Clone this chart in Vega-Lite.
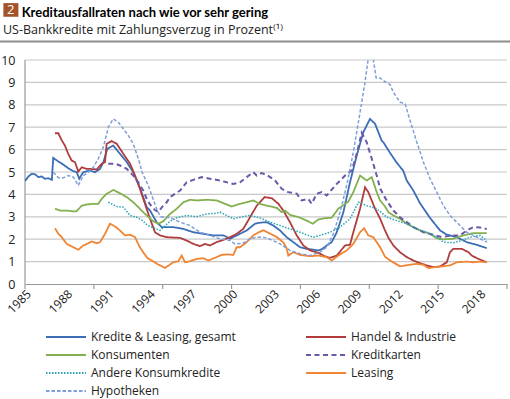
{
"$schema": "https://vega.github.io/schema/vega-lite/v6.json",
"width": 482, "height": 224,
"autosize": {"type": "none"},
"padding": {"left": 25, "top": 60, "right": 3, "bottom": 115},
"background": "white",
"config": {"font": "Open Sans", "view": {"stroke": null}},
"title": {"text": "\u200b\u2003\u2002\u2009\u200aKreditausfallraten nach wie vor sehr gering", "subtitle": "US-Bankkredite mit Zahlungsverzug in Prozent\u207d\u00b9\u207e", "anchor": "start", "frame": "group", "dx": -22, "offset": -33, "font": "Lato", "fontSize": 13, "fontWeight": "bold", "color": "#000000", "subtitleFont": "Open Sans", "subtitleFontSize": 12.5, "subtitleColor": "#222222", "subtitlePadding": 4},
"datasets": {
"A": [{"x":1985.0,"v":4.6},{"x":1985.25,"v":4.8},{"x":1985.49,"v":4.92},{"x":1985.73,"v":4.9},{"x":1985.97,"v":4.77},{"x":1986.21,"v":4.8},{"x":1986.45,"v":4.7},{"x":1986.69,"v":4.72},{"x":1986.95,"v":4.65},{"x":1987.05,"v":5.63},{"x":1987.42,"v":5.47},{"x":1987.78,"v":5.33},{"x":1988.14,"v":5.17},{"x":1988.51,"v":5.04},{"x":1988.75,"v":5.0},{"x":1988.94,"v":4.7},{"x":1989.23,"v":4.99},{"x":1989.72,"v":5.07},{"x":1990.08,"v":4.99},{"x":1990.45,"v":5.14},{"x":1990.69,"v":5.44},{"x":1990.98,"v":6.03},{"x":1991.41,"v":6.18},{"x":1991.9,"v":5.81},{"x":1992.39,"v":5.44},{"x":1992.86,"v":4.99},{"x":1993.35,"v":4.28},{"x":1993.84,"v":3.43},{"x":1994.08,"v":3.28},{"x":1994.56,"v":2.76},{"x":1994.93,"v":2.54},{"x":1995.77,"v":2.54},{"x":1996.5,"v":2.46},{"x":1997.22,"v":2.31},{"x":1997.95,"v":2.24},{"x":1998.67,"v":2.17},{"x":1999.4,"v":2.17},{"x":1999.69,"v":2.09},{"x":1999.89,"v":2.02},{"x":2000.37,"v":2.17},{"x":2001.1,"v":2.39},{"x":2001.7,"v":2.69},{"x":2002.07,"v":2.74},{"x":2002.55,"v":2.76},{"x":2003.03,"v":2.61},{"x":2003.52,"v":2.39},{"x":2004.0,"v":2.09},{"x":2004.48,"v":1.87},{"x":2004.97,"v":1.64},{"x":2005.46,"v":1.57},{"x":2006.3,"v":1.5},{"x":2006.55,"v":1.55},{"x":2006.91,"v":1.72},{"x":2007.27,"v":1.87},{"x":2007.64,"v":2.31},{"x":2008.12,"v":3.21},{"x":2008.6,"v":4.54},{"x":2009.09,"v":5.74},{"x":2009.57,"v":6.78},{"x":2010.05,"v":7.37},{"x":2010.42,"v":7.15},{"x":2010.9,"v":6.4},{"x":2011.02,"v":6.33},{"x":2011.51,"v":5.85},{"x":2011.99,"v":5.42},{"x":2012.47,"v":5.05},{"x":2012.72,"v":4.62},{"x":2013.2,"v":4.17},{"x":2013.69,"v":3.6},{"x":2014.41,"v":2.95},{"x":2015.14,"v":2.39},{"x":2015.63,"v":2.2},{"x":2016.35,"v":2.09},{"x":2017.08,"v":1.87},{"x":2017.8,"v":1.75},{"x":2018.53,"v":1.6}],
"B": [{"x":1987.18,"v":6.73},{"x":1987.42,"v":6.73},{"x":1987.67,"v":6.41},{"x":1987.9,"v":6.18},{"x":1988.14,"v":5.81},{"x":1988.39,"v":5.51},{"x":1988.63,"v":5.44},{"x":1988.87,"v":5.02},{"x":1989.12,"v":5.21},{"x":1989.48,"v":5.14},{"x":1989.84,"v":5.14},{"x":1990.21,"v":5.11},{"x":1990.57,"v":5.37},{"x":1990.81,"v":5.44},{"x":1990.93,"v":6.26},{"x":1991.3,"v":6.38},{"x":1991.66,"v":6.26},{"x":1992.14,"v":5.81},{"x":1992.63,"v":5.37},{"x":1992.99,"v":4.84},{"x":1993.35,"v":4.25},{"x":1993.71,"v":3.58},{"x":1994.0,"v":3.05},{"x":1994.44,"v":2.31},{"x":1994.8,"v":2.17},{"x":1995.29,"v":2.09},{"x":1996.26,"v":2.06},{"x":1996.74,"v":1.94},{"x":1997.22,"v":1.79},{"x":1997.71,"v":1.69},{"x":1998.07,"v":1.79},{"x":1998.43,"v":1.72},{"x":1998.92,"v":1.87},{"x":1999.4,"v":1.97},{"x":1999.89,"v":2.09},{"x":2000.37,"v":2.24},{"x":2000.85,"v":2.46},{"x":2001.34,"v":2.98},{"x":2001.83,"v":3.5},{"x":2002.4,"v":3.88},{"x":2002.92,"v":3.83},{"x":2003.4,"v":3.58},{"x":2003.76,"v":3.28},{"x":2004.24,"v":2.76},{"x":2004.73,"v":2.17},{"x":2005.21,"v":1.72},{"x":2005.7,"v":1.5},{"x":2006.3,"v":1.39},{"x":2006.79,"v":1.23},{"x":2007.15,"v":1.17},{"x":2007.64,"v":1.27},{"x":2008.24,"v":1.72},{"x":2008.6,"v":1.75},{"x":2008.84,"v":2.31},{"x":2009.33,"v":3.36},{"x":2009.69,"v":4.32},{"x":2009.93,"v":4.1},{"x":2010.42,"v":3.36},{"x":2010.8,"v":2.9},{"x":2011.1,"v":2.45},{"x":2011.4,"v":2.05},{"x":2011.75,"v":1.72},{"x":2012.23,"v":1.42},{"x":2012.72,"v":1.2},{"x":2013.2,"v":1.05},{"x":2013.69,"v":0.93},{"x":2014.17,"v":0.83},{"x":2014.65,"v":0.75},{"x":2015.14,"v":0.79},{"x":2015.63,"v":0.97},{"x":2015.86,"v":1.42},{"x":2016.1,"v":1.57},{"x":2016.72,"v":1.57},{"x":2017.2,"v":1.42},{"x":2017.44,"v":1.27},{"x":2017.92,"v":1.12},{"x":2018.53,"v":0.97}],
"C": [{"x":1987.18,"v":3.36},{"x":1987.54,"v":3.28},{"x":1988.03,"v":3.28},{"x":1988.51,"v":3.24},{"x":1988.75,"v":3.25},{"x":1989.12,"v":3.5},{"x":1989.48,"v":3.55},{"x":1989.96,"v":3.58},{"x":1990.32,"v":3.58},{"x":1990.57,"v":3.8},{"x":1990.93,"v":4.03},{"x":1991.41,"v":4.2},{"x":1991.9,"v":4.05},{"x":1992.39,"v":3.88},{"x":1992.86,"v":3.65},{"x":1993.23,"v":3.43},{"x":1993.59,"v":3.2},{"x":1993.84,"v":3.06},{"x":1994.32,"v":2.8},{"x":1994.68,"v":2.69},{"x":1995.04,"v":2.8},{"x":1995.53,"v":3.13},{"x":1996.02,"v":3.36},{"x":1996.5,"v":3.65},{"x":1996.98,"v":3.76},{"x":1997.47,"v":3.73},{"x":1998.2,"v":3.76},{"x":1998.92,"v":3.73},{"x":1999.52,"v":3.58},{"x":2000.01,"v":3.46},{"x":2000.61,"v":3.58},{"x":2001.1,"v":3.65},{"x":2001.58,"v":3.73},{"x":2002.07,"v":3.57},{"x":2002.55,"v":3.5},{"x":2003.28,"v":3.4},{"x":2003.64,"v":3.21},{"x":2003.88,"v":3.28},{"x":2004.24,"v":3.09},{"x":2004.97,"v":2.96},{"x":2005.46,"v":2.83},{"x":2005.89,"v":2.69},{"x":2006.3,"v":2.88},{"x":2006.79,"v":2.94},{"x":2007.27,"v":2.96},{"x":2007.75,"v":3.36},{"x":2008.48,"v":3.68},{"x":2008.84,"v":4.1},{"x":2009.33,"v":4.84},{"x":2009.81,"v":4.62},{"x":2010.18,"v":4.77},{"x":2010.54,"v":4.1},{"x":2010.78,"v":3.73},{"x":2011.1,"v":3.5},{"x":2011.4,"v":3.2},{"x":2011.75,"v":3.06},{"x":2012.23,"v":2.91},{"x":2012.72,"v":2.69},{"x":2013.2,"v":2.54},{"x":2013.69,"v":2.39},{"x":2014.41,"v":2.24},{"x":2014.9,"v":2.04},{"x":2015.38,"v":1.99},{"x":2016.1,"v":2.02},{"x":2016.83,"v":2.17},{"x":2017.56,"v":2.27},{"x":2018.53,"v":2.27}],
"D": [{"x":1991.05,"v":5.37},{"x":1991.54,"v":5.37},{"x":1991.9,"v":5.29},{"x":1992.39,"v":5.14},{"x":1992.86,"v":4.84},{"x":1993.23,"v":4.54},{"x":1993.59,"v":4.17},{"x":1993.84,"v":3.8},{"x":1994.08,"v":3.55},{"x":1994.44,"v":3.3},{"x":1994.68,"v":3.22},{"x":1995.04,"v":3.5},{"x":1995.29,"v":3.65},{"x":1995.53,"v":3.88},{"x":1996.26,"v":4.17},{"x":1996.74,"v":4.54},{"x":1997.22,"v":4.65},{"x":1997.83,"v":4.77},{"x":1998.43,"v":4.7},{"x":1999.16,"v":4.62},{"x":1999.65,"v":4.54},{"x":2000.13,"v":4.47},{"x":2000.61,"v":4.54},{"x":2001.1,"v":4.77},{"x":2001.58,"v":4.99},{"x":2001.83,"v":4.84},{"x":2002.19,"v":4.95},{"x":2002.55,"v":4.87},{"x":2003.16,"v":4.62},{"x":2003.64,"v":4.25},{"x":2004.12,"v":4.1},{"x":2004.73,"v":4.03},{"x":2005.09,"v":3.73},{"x":2005.57,"v":3.8},{"x":2005.82,"v":3.58},{"x":2006.18,"v":4.03},{"x":2006.55,"v":4.1},{"x":2006.91,"v":3.95},{"x":2007.64,"v":4.47},{"x":2008.24,"v":4.84},{"x":2008.73,"v":5.07},{"x":2009.09,"v":5.81},{"x":2009.45,"v":6.75},{"x":2009.81,"v":6.33},{"x":2010.18,"v":5.59},{"x":2010.54,"v":4.84},{"x":2010.8,"v":4.25},{"x":2011.1,"v":3.9},{"x":2011.4,"v":3.6},{"x":2011.75,"v":3.28},{"x":2012.23,"v":2.98},{"x":2012.72,"v":2.76},{"x":2013.2,"v":2.54},{"x":2013.93,"v":2.31},{"x":2014.65,"v":2.2},{"x":2015.26,"v":2.09},{"x":2015.99,"v":2.17},{"x":2016.59,"v":2.17},{"x":2017.08,"v":2.39},{"x":2017.56,"v":2.54},{"x":2018.04,"v":2.52},{"x":2018.53,"v":2.46}],
"E": [{"x":1991.05,"v":3.65},{"x":1991.66,"v":3.46},{"x":1992.14,"v":3.43},{"x":1992.63,"v":3.06},{"x":1993.11,"v":2.98},{"x":1993.5,"v":2.85},{"x":1993.9,"v":2.62},{"x":1994.32,"v":2.51},{"x":1994.8,"v":2.39},{"x":1995.53,"v":2.8},{"x":1996.02,"v":2.96},{"x":1996.74,"v":3.06},{"x":1997.47,"v":3.01},{"x":1998.2,"v":3.13},{"x":1998.92,"v":3.16},{"x":1999.16,"v":3.21},{"x":1999.65,"v":3.06},{"x":2000.13,"v":2.91},{"x":2000.61,"v":2.98},{"x":2001.34,"v":3.06},{"x":2002.07,"v":2.95},{"x":2002.79,"v":2.76},{"x":2003.52,"v":2.61},{"x":2004.24,"v":2.46},{"x":2004.97,"v":2.31},{"x":2005.57,"v":2.17},{"x":2005.94,"v":2.09},{"x":2006.42,"v":2.17},{"x":2007.15,"v":2.31},{"x":2007.88,"v":2.54},{"x":2008.6,"v":2.91},{"x":2009.21,"v":3.65},{"x":2009.81,"v":3.5},{"x":2010.54,"v":3.36},{"x":2010.85,"v":3.21},{"x":2011.27,"v":2.98},{"x":2011.99,"v":2.83},{"x":2012.72,"v":2.69},{"x":2013.45,"v":2.46},{"x":2014.17,"v":2.31},{"x":2014.9,"v":2.09},{"x":2015.38,"v":1.87},{"x":2016.1,"v":1.84},{"x":2016.72,"v":1.94},{"x":2017.32,"v":2.09},{"x":2018.04,"v":2.17},{"x":2018.53,"v":1.94}],
"F": [{"x":1987.18,"v":2.49},{"x":1987.42,"v":2.24},{"x":1987.67,"v":2.09},{"x":1988.03,"v":1.79},{"x":1988.51,"v":1.64},{"x":1988.87,"v":1.53},{"x":1989.23,"v":1.72},{"x":1989.6,"v":1.82},{"x":1989.84,"v":1.9},{"x":1990.21,"v":1.82},{"x":1990.45,"v":1.87},{"x":1990.81,"v":2.24},{"x":1991.17,"v":2.69},{"x":1991.54,"v":2.57},{"x":1991.9,"v":2.39},{"x":1992.26,"v":2.17},{"x":1992.63,"v":2.2},{"x":1992.99,"v":2.09},{"x":1993.3,"v":1.68},{"x":1993.6,"v":1.4},{"x":1993.9,"v":1.15},{"x":1994.2,"v":1.05},{"x":1994.68,"v":0.87},{"x":1995.17,"v":0.72},{"x":1995.77,"v":0.97},{"x":1996.13,"v":1.02},{"x":1996.38,"v":1.27},{"x":1996.62,"v":0.97},{"x":1996.98,"v":1.02},{"x":1997.47,"v":1.12},{"x":1997.95,"v":1.15},{"x":1998.31,"v":1.05},{"x":1998.8,"v":1.17},{"x":1999.28,"v":1.3},{"x":1999.65,"v":1.32},{"x":2000.13,"v":1.3},{"x":2000.37,"v":1.64},{"x":2000.61,"v":1.64},{"x":2001.1,"v":1.87},{"x":2001.58,"v":2.17},{"x":2001.94,"v":2.3},{"x":2002.31,"v":2.4},{"x":2002.79,"v":2.25},{"x":2003.28,"v":2.1},{"x":2003.76,"v":1.85},{"x":2004.0,"v":1.6},{"x":2004.12,"v":1.27},{"x":2004.48,"v":1.42},{"x":2004.97,"v":1.3},{"x":2005.7,"v":1.24},{"x":2006.3,"v":1.27},{"x":2006.91,"v":1.2},{"x":2007.27,"v":1.05},{"x":2007.75,"v":1.27},{"x":2008.36,"v":1.5},{"x":2008.84,"v":1.79},{"x":2009.33,"v":2.31},{"x":2009.62,"v":2.49},{"x":2009.93,"v":2.17},{"x":2010.29,"v":2.09},{"x":2010.78,"v":1.65},{"x":2011.14,"v":1.22},{"x":2011.51,"v":1.05},{"x":2012.23,"v":0.79},{"x":2012.96,"v":0.86},{"x":2013.45,"v":0.9},{"x":2013.93,"v":0.86},{"x":2014.29,"v":0.71},{"x":2014.77,"v":0.75},{"x":2015.38,"v":0.79},{"x":2015.86,"v":0.83},{"x":2016.35,"v":0.97},{"x":2017.08,"v":1.0},{"x":2017.56,"v":0.97},{"x":2018.04,"v":1.0},{"x":2018.53,"v":0.97}],
"G": [{"x":1987.06,"v":4.99},{"x":1987.42,"v":4.74},{"x":1987.78,"v":4.74},{"x":1988.14,"v":4.84},{"x":1988.51,"v":4.77},{"x":1988.87,"v":4.4},{"x":1989.23,"v":4.84},{"x":1989.6,"v":4.99},{"x":1989.96,"v":5.21},{"x":1990.32,"v":5.59},{"x":1990.69,"v":6.11},{"x":1991.05,"v":7.0},{"x":1991.41,"v":7.37},{"x":1991.78,"v":7.22},{"x":1992.14,"v":6.93},{"x":1992.5,"v":6.63},{"x":1992.86,"v":6.26},{"x":1993.23,"v":5.6},{"x":1993.5,"v":5.0},{"x":1993.95,"v":4.4},{"x":1994.3,"v":3.8},{"x":1994.56,"v":3.35},{"x":1994.85,"v":3.0},{"x":1995.53,"v":2.96},{"x":1996.26,"v":2.76},{"x":1996.98,"v":2.61},{"x":1997.71,"v":2.31},{"x":1998.43,"v":2.17},{"x":1999.16,"v":2.02},{"x":1999.89,"v":1.94},{"x":2000.25,"v":1.79},{"x":2000.85,"v":1.82},{"x":2001.34,"v":2.02},{"x":2001.83,"v":2.09},{"x":2002.31,"v":2.09},{"x":2002.79,"v":2.0},{"x":2003.52,"v":1.79},{"x":2004.24,"v":1.5},{"x":2004.97,"v":1.35},{"x":2005.7,"v":1.27},{"x":2006.42,"v":1.42},{"x":2006.91,"v":1.64},{"x":2007.39,"v":2.24},{"x":2007.88,"v":3.21},{"x":2008.36,"v":4.4},{"x":2008.84,"v":5.88},{"x":2009.33,"v":7.67},{"x":2009.69,"v":9.01},{"x":2010.0,"v":10.4},{"x":2010.25,"v":10.2},{"x":2010.5,"v":9.2},{"x":2010.78,"v":9.2},{"x":2011.02,"v":9.08},{"x":2011.51,"v":8.9},{"x":2011.75,"v":8.56},{"x":2012.23,"v":8.12},{"x":2012.6,"v":8.04},{"x":2012.96,"v":7.3},{"x":2013.45,"v":6.33},{"x":2013.93,"v":5.44},{"x":2014.41,"v":4.7},{"x":2014.9,"v":4.1},{"x":2015.38,"v":3.5},{"x":2015.86,"v":3.06},{"x":2016.59,"v":2.61},{"x":2017.08,"v":2.31},{"x":2017.56,"v":2.17},{"x":2018.04,"v":2.02},{"x":2018.53,"v":1.87}],
"grid": [{"g":1},{"g":2},{"g":3},{"g":4},{"g":5},{"g":6},{"g":7},{"g":8},{"g":9},{"g":10}],
"xt": [{"t":1985},{"t":1990},{"t":1995},{"t":2000},{"t":2005},{"t":2010},{"t":2015},{"t":2020}],
"one": [{}]
},
"resolve": {"axis": {"x": "independent", "y": "independent"}},
"layer": [
{"data": {"name": "grid"}, "mark": {"type": "rule", "color": "#c8c8c8", "strokeWidth": 1.2},
 "encoding": {
  "x": {"datum": 1985, "type": "quantitative", "scale": {"domain": [1985, 2020], "nice": false, "zero": false}, "axis": null},
  "x2": {"datum": 2020},
  "y": {"field": "g", "type": "quantitative", "scale": {"domain": [0, 10], "nice": false, "zero": true}, "axis": null}
 }},
{"data": {"name": "one"}, "mark": {"type": "rule", "color": "#999999", "strokeWidth": 1.2},
 "encoding": {
  "x": {"datum": 1985, "type": "quantitative", "axis": null},
  "y": {"datum": 0, "type": "quantitative", "axis": null},
  "y2": {"datum": 10}
 }},
{"data": {"name": "xt"}, "mark": {"type": "rule", "color": "#999999", "strokeWidth": 1.2},
 "encoding": {
  "x": {"field": "t", "type": "quantitative", "axis": null},
  "y": {"datum": 0, "type": "quantitative", "axis": null},
  "y2": {"datum": -0.223}
 }},
{"data": {"name": "A"}, "mark": {"type": "line", "strokeWidth": 1.8, "clip": true},
 "encoding": {
  "x": {"field": "x", "type": "quantitative", "scale": {"domain": [1985, 2020], "nice": false, "zero": false}, "axis": {"orient": "bottom", "values": [1985,1988,1991,1994,1997,2000,2003,2006,2009,2012,2015,2018], "format": "d", "labelAngle": -45, "ticks": false, "domain": true, "domainColor": "#999999", "domainWidth": 1, "grid": false, "title": null, "labelFont": "Open Sans", "labelFontSize": 12, "labelColor": "#222222", "labelPadding": 4}},
  "y": {"field": "v", "type": "quantitative", "scale": {"domain": [0, 10], "nice": false, "zero": true}, "axis": {"orient": "left", "values": [0,1,2,3,4,5,6,7,8,9,10], "labelOverlap": false, "domain": false, "ticks": false, "grid": false, "title": null, "labelFont": "Open Sans", "labelFontSize": 12.5, "labelColor": "#222222", "labelPadding": 10}},
  "color": {"datum": "Kredite & Leasing, gesamt", "scale": {"domain": ["Kredite & Leasing, gesamt","Handel & Industrie","Konsumenten","Kreditkarten","Andere Konsumkredite","Leasing","Hypotheken"], "range": ["#3a6eb5","#b03c3c","#83b04f","#6a58a8","#2aa3b5","#ef8433","#7f9fd8"]}, "legend": {"title": null, "orient": "none", "direction": "horizontal", "legendX": 20, "legendY": 268, "columns": 2, "columnPadding": 69, "rowPadding": 0, "clipHeight": 18, "symbolType": "stroke", "symbolSize": 1600, "symbolStrokeWidth": 2, "labelFont": "Open Sans", "labelFontSize": 12, "labelColor": "#222222", "labelOffset": 4, "gridAlign": "all", "labelLimit": 300}},
  "strokeDash": {"datum": "Kredite & Leasing, gesamt", "scale": {"domain": ["Kredite & Leasing, gesamt","Handel & Industrie","Konsumenten","Kreditkarten","Andere Konsumkredite","Leasing","Hypotheken"], "range": [[1,0],[1,0],[1,0],[5,3.5],[1.5,1.5],[1,0],[3.5,2]]}, "legend": {"title": null, "orient": "none", "direction": "horizontal", "legendX": 20, "legendY": 268, "columns": 2, "columnPadding": 69, "rowPadding": 0, "clipHeight": 18, "symbolType": "stroke", "symbolSize": 1600, "symbolStrokeWidth": 2, "labelFont": "Open Sans", "labelFontSize": 12, "labelColor": "#222222", "labelOffset": 4, "gridAlign": "all", "labelLimit": 300}}
 }},
{"data": {"name": "B"}, "mark": {"type": "line", "strokeWidth": 1.8, "clip": true},
 "encoding": {
  "x": {"field": "x", "type": "quantitative", "axis": null},
  "y": {"field": "v", "type": "quantitative", "axis": null},
  "color": {"datum": "Handel & Industrie"},
  "strokeDash": {"datum": "Handel & Industrie"}
 }},
{"data": {"name": "C"}, "mark": {"type": "line", "strokeWidth": 1.8, "clip": true},
 "encoding": {
  "x": {"field": "x", "type": "quantitative", "axis": null},
  "y": {"field": "v", "type": "quantitative", "axis": null},
  "color": {"datum": "Konsumenten"},
  "strokeDash": {"datum": "Konsumenten"}
 }},
{"data": {"name": "D"}, "mark": {"type": "line", "strokeWidth": 2, "clip": true},
 "encoding": {
  "x": {"field": "x", "type": "quantitative", "axis": null},
  "y": {"field": "v", "type": "quantitative", "axis": null},
  "color": {"datum": "Kreditkarten"},
  "strokeDash": {"datum": "Kreditkarten"}
 }},
{"data": {"name": "E"}, "mark": {"type": "line", "strokeWidth": 1.5, "clip": true},
 "encoding": {
  "x": {"field": "x", "type": "quantitative", "axis": null},
  "y": {"field": "v", "type": "quantitative", "axis": null},
  "color": {"datum": "Andere Konsumkredite"},
  "strokeDash": {"datum": "Andere Konsumkredite"}
 }},
{"data": {"name": "F"}, "mark": {"type": "line", "strokeWidth": 1.8, "clip": true},
 "encoding": {
  "x": {"field": "x", "type": "quantitative", "axis": null},
  "y": {"field": "v", "type": "quantitative", "axis": null},
  "color": {"datum": "Leasing"},
  "strokeDash": {"datum": "Leasing"}
 }},
{"data": {"name": "G"}, "mark": {"type": "line", "strokeWidth": 1.5, "clip": true},
 "encoding": {
  "x": {"field": "x", "type": "quantitative", "axis": null},
  "y": {"field": "v", "type": "quantitative", "axis": null},
  "color": {"datum": "Hypotheken"},
  "strokeDash": {"datum": "Hypotheken"}
 }},
{"data": {"name": "one"}, "mark": {"type": "rule", "color": "#8c8c8c", "strokeWidth": 2},
 "encoding": {
  "x": {"datum": 1983.18, "type": "quantitative", "axis": null},
  "x2": {"datum": 2020.22},
  "y": {"datum": 10.83, "type": "quantitative", "axis": null}
 }},
{"data": {"name": "one"}, "mark": {"type": "rect", "color": "#a3522a"},
 "encoding": {
  "x": {"datum": 1983.43, "type": "quantitative", "axis": null},
  "x2": {"datum": 1984.52},
  "y": {"datum": 12.54, "type": "quantitative", "axis": null},
  "y2": {"datum": 11.93}
 }},
{"data": {"name": "one"}, "mark": {"type": "text", "color": "white", "font": "Open Sans", "fontSize": 13, "align": "center", "baseline": "middle"},
 "encoding": {
  "x": {"datum": 1983.97, "type": "quantitative", "axis": null},
  "y": {"datum": 12.22, "type": "quantitative", "axis": null},
  "text": {"value": "2"}
 }}
]
}
